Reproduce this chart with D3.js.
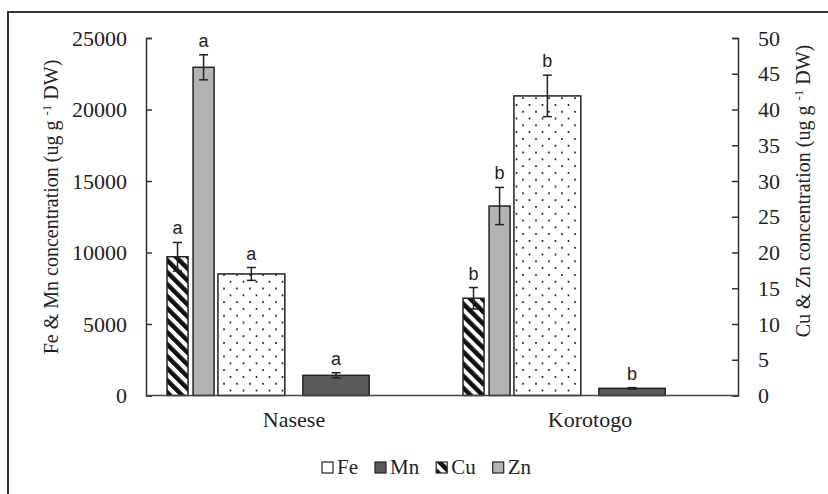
<!DOCTYPE html>
<html lang="en">
<head>
<meta charset="UTF-8">
<title>Fe, Mn, Cu, Zn concentration</title>
<script src="https://d3js.org/d3.v7.min.js"></script>
<style>
    body { margin: 0; background: #fff; }
    svg { display: block; }
</style>
</head>
<body>
<div class="chart"></div>
<script>
// data
const categories = ["Nasese", "Korotogo"];
const feVals = [8500, 20950], feErr = [450, 1450], feSig = ["a", "b"];
const mnVals = [1410, 500],   mnErr = [180, 50],   mnSig = ["a", "b"];
const cuVals = [19.4, 13.6],  cuErr = [2.0, 1.5],  cuSig = ["a", "b"];
const znVals = [45.9, 26.5],  znErr = [1.75, 2.6], znSig = ["a", "b"];
const leftTicks = [0, 5000, 10000, 15000, 20000, 25000];
const rightTicks = [0, 5, 10, 15, 20, 25, 30, 35, 40, 45, 50];
const legendNames = ["Fe", "Mn", "Cu", "Zn"];

const SERIF = "'Liberation Serif', 'Times New Roman', serif";
const SANS = "'Liberation Sans', Arial, sans-serif";

const W = 828, H = 494;
const svg = d3.select('.chart').append('svg').attr('width', W).attr('height', H);

// patterns
const defs = svg.append('defs');
const hatch = defs.append('pattern').attr('id', 'hatch')
    .attr('patternUnits', 'userSpaceOnUse').attr('width', 8.5).attr('height', 8.5)
    .attr('patternTransform', 'rotate(-45)');
hatch.append('rect').attr('width', 8.5).attr('height', 8.5).attr('fill', '#fff');
hatch.append('rect').attr('width', 4.5).attr('height', 8.5).attr('fill', '#111');

const dots = defs.append('pattern').attr('id', 'dots')
    .attr('patternUnits', 'userSpaceOnUse').attr('width', 13).attr('height', 13.6);
dots.append('rect').attr('width', 13).attr('height', 13.6).attr('fill', '#fff');
dots.append('circle').attr('cx', 3).attr('cy', 3).attr('r', 1).attr('fill', '#111');
dots.append('circle').attr('cx', 9.5).attr('cy', 9.8).attr('r', 1).attr('fill', '#111');

// outer frame (only top/left visible in the crop)
svg.append('path').attr('d', `M8,${H} L8,12 L${W},12`)
    .attr('fill', 'none').attr('stroke', '#333').attr('stroke-width', 2);

const plotL = 146, plotR = 738, plotT = 38, plotB = 395.5;
const x = d3.scaleBand().domain(categories).range([plotL, plotR]);
const yL = d3.scaleLinear().domain([0, 25000]).range([plotB, plotT]);
const yR = d3.scaleLinear().domain([0, 50]).range([plotB, plotT]);

// series layout inside a category band (fractions of the band)
const series = [
    { name: 'Cu', vals: cuVals, err: cuErr, sig: cuSig, y: yR, off: 0.071, w: 0.071, fill: 'url(#hatch)' },
    { name: 'Zn', vals: znVals, err: znErr, sig: znSig, y: yR, off: 0.159, w: 0.071, fill: '#b3b3b3' },
    { name: 'Fe', vals: feVals, err: feErr, sig: feSig, y: yL, off: 0.243, w: 0.226, fill: 'url(#dots)' },
    { name: 'Mn', vals: mnVals, err: mnErr, sig: mnSig, y: yL, off: 0.530, w: 0.224, fill: '#5a5a5a' }
];

const bw = x.bandwidth();
series.forEach(s => {
    const rows = categories.map((c, i) => ({ c, v: s.vals[i], e: s.err[i], t: s.sig[i] }));
    const g = svg.append('g');
    g.selectAll('rect').data(rows).enter().append('rect')
        .attr('x', d => x(d.c) + bw * s.off)
        .attr('y', d => s.y(d.v))
        .attr('width', bw * s.w)
        .attr('height', d => plotB - s.y(d.v))
        .attr('fill', s.fill)
        .attr('stroke', '#222').attr('stroke-width', 1.5);
    const cx = d => x(d.c) + bw * (s.off + s.w / 2);
    const eb = g.selectAll('.err').data(rows).enter().append('g').attr('class', 'err')
        .attr('stroke', '#222').attr('stroke-width', 1.5);
    eb.append('line').attr('x1', cx).attr('x2', cx)
        .attr('y1', d => s.y(d.v - d.e)).attr('y2', d => s.y(d.v + d.e));
    eb.append('line').attr('x1', d => cx(d) - 4.5).attr('x2', d => cx(d) + 4.5)
        .attr('y1', d => s.y(d.v + d.e)).attr('y2', d => s.y(d.v + d.e));
    eb.append('line').attr('x1', d => cx(d) - 4.5).attr('x2', d => cx(d) + 4.5)
        .attr('y1', d => s.y(d.v - d.e)).attr('y2', d => s.y(d.v - d.e));
    g.selectAll('.sig').data(rows).enter().append('text')
        .attr('x', cx).attr('y', d => s.y(d.v + d.e) - 8)
        .attr('text-anchor', 'middle').style('font-family', SANS).style('font-size', '18px')
        .attr('fill', '#222').text(d => d.t);
});

// axes
const axL = svg.append('g').attr('transform', `translate(${plotL},0)`)
    .call(d3.axisRight(yL).tickValues(leftTicks).tickSize(6).tickFormat(d3.format('d')));
const axR = svg.append('g').attr('transform', `translate(${plotR},0)`)
    .call(d3.axisLeft(yR).tickValues(rightTicks).tickSize(6).tickFormat(d3.format('d')));
[axL, axR].forEach(a => {
    a.attr('font-family', null).attr('font-size', null);
    a.select('.domain').attr('stroke', '#333').attr('stroke-width', 1.5);
    a.selectAll('.tick line').attr('stroke', '#333').attr('stroke-width', 1.5);
    a.selectAll('.tick text').style('font-family', SERIF).style('font-size', '22px').attr('fill', '#222');
});
axL.selectAll('.tick text').attr('x', -19).attr('text-anchor', 'end');
axR.selectAll('.tick text').attr('x', 20).attr('text-anchor', 'start');

// baseline
svg.append('line').attr('x1', plotL).attr('x2', plotR).attr('y1', plotB).attr('y2', plotB)
    .attr('stroke', '#444').attr('stroke-width', 1.5);

// category labels
svg.selectAll('.cat').data(categories).enter().append('text').attr('class', 'cat')
    .attr('x', d => x(d) + bw / 2).attr('y', 427).attr('text-anchor', 'middle')
    .style('font-family', SERIF).style('font-size', '22px').attr('fill', '#222').text(d => d);

// axis titles
function title(xp, yp, pre) {
    const t = svg.append('text').style('font-family', SERIF).style('font-size', '20px')
        .attr('fill', '#222').attr('text-anchor', 'middle')
        .attr('transform', `translate(${xp},${yp}) rotate(-90)`);
    t.append('tspan').text(pre + ' concentration (ug g ');
    t.append('tspan').style('font-size', '13px').attr('dy', -7).text('-1');
    t.append('tspan').attr('dy', 7).text(' DW)');
}
title(58, 207, 'Fe & Mn');
title(810, 191, 'Cu & Zn');

// legend
const legFill = { Fe: '#fff', Mn: '#5a5a5a', Cu: 'url(#hatch)', Zn: '#b3b3b3' };
const leg = svg.append('g').attr('transform', 'translate(322,474)');
let lx = 0;
legendNames.forEach(n => {
    const it = leg.append('g').attr('transform', `translate(${lx},0)`);
    it.append('rect').attr('x', 0).attr('y', -12).attr('width', 11).attr('height', 11)
        .attr('fill', legFill[n]).attr('stroke', '#222').attr('stroke-width', 1.2);
    const t = it.append('text').attr('x', 15).attr('y', 0)
        .style('font-family', SERIF).style('font-size', '21px').attr('fill', '#222').text(n);
    lx += 15 + t.node().getComputedTextLength() + 17;
});
</script>
</body>
</html>
